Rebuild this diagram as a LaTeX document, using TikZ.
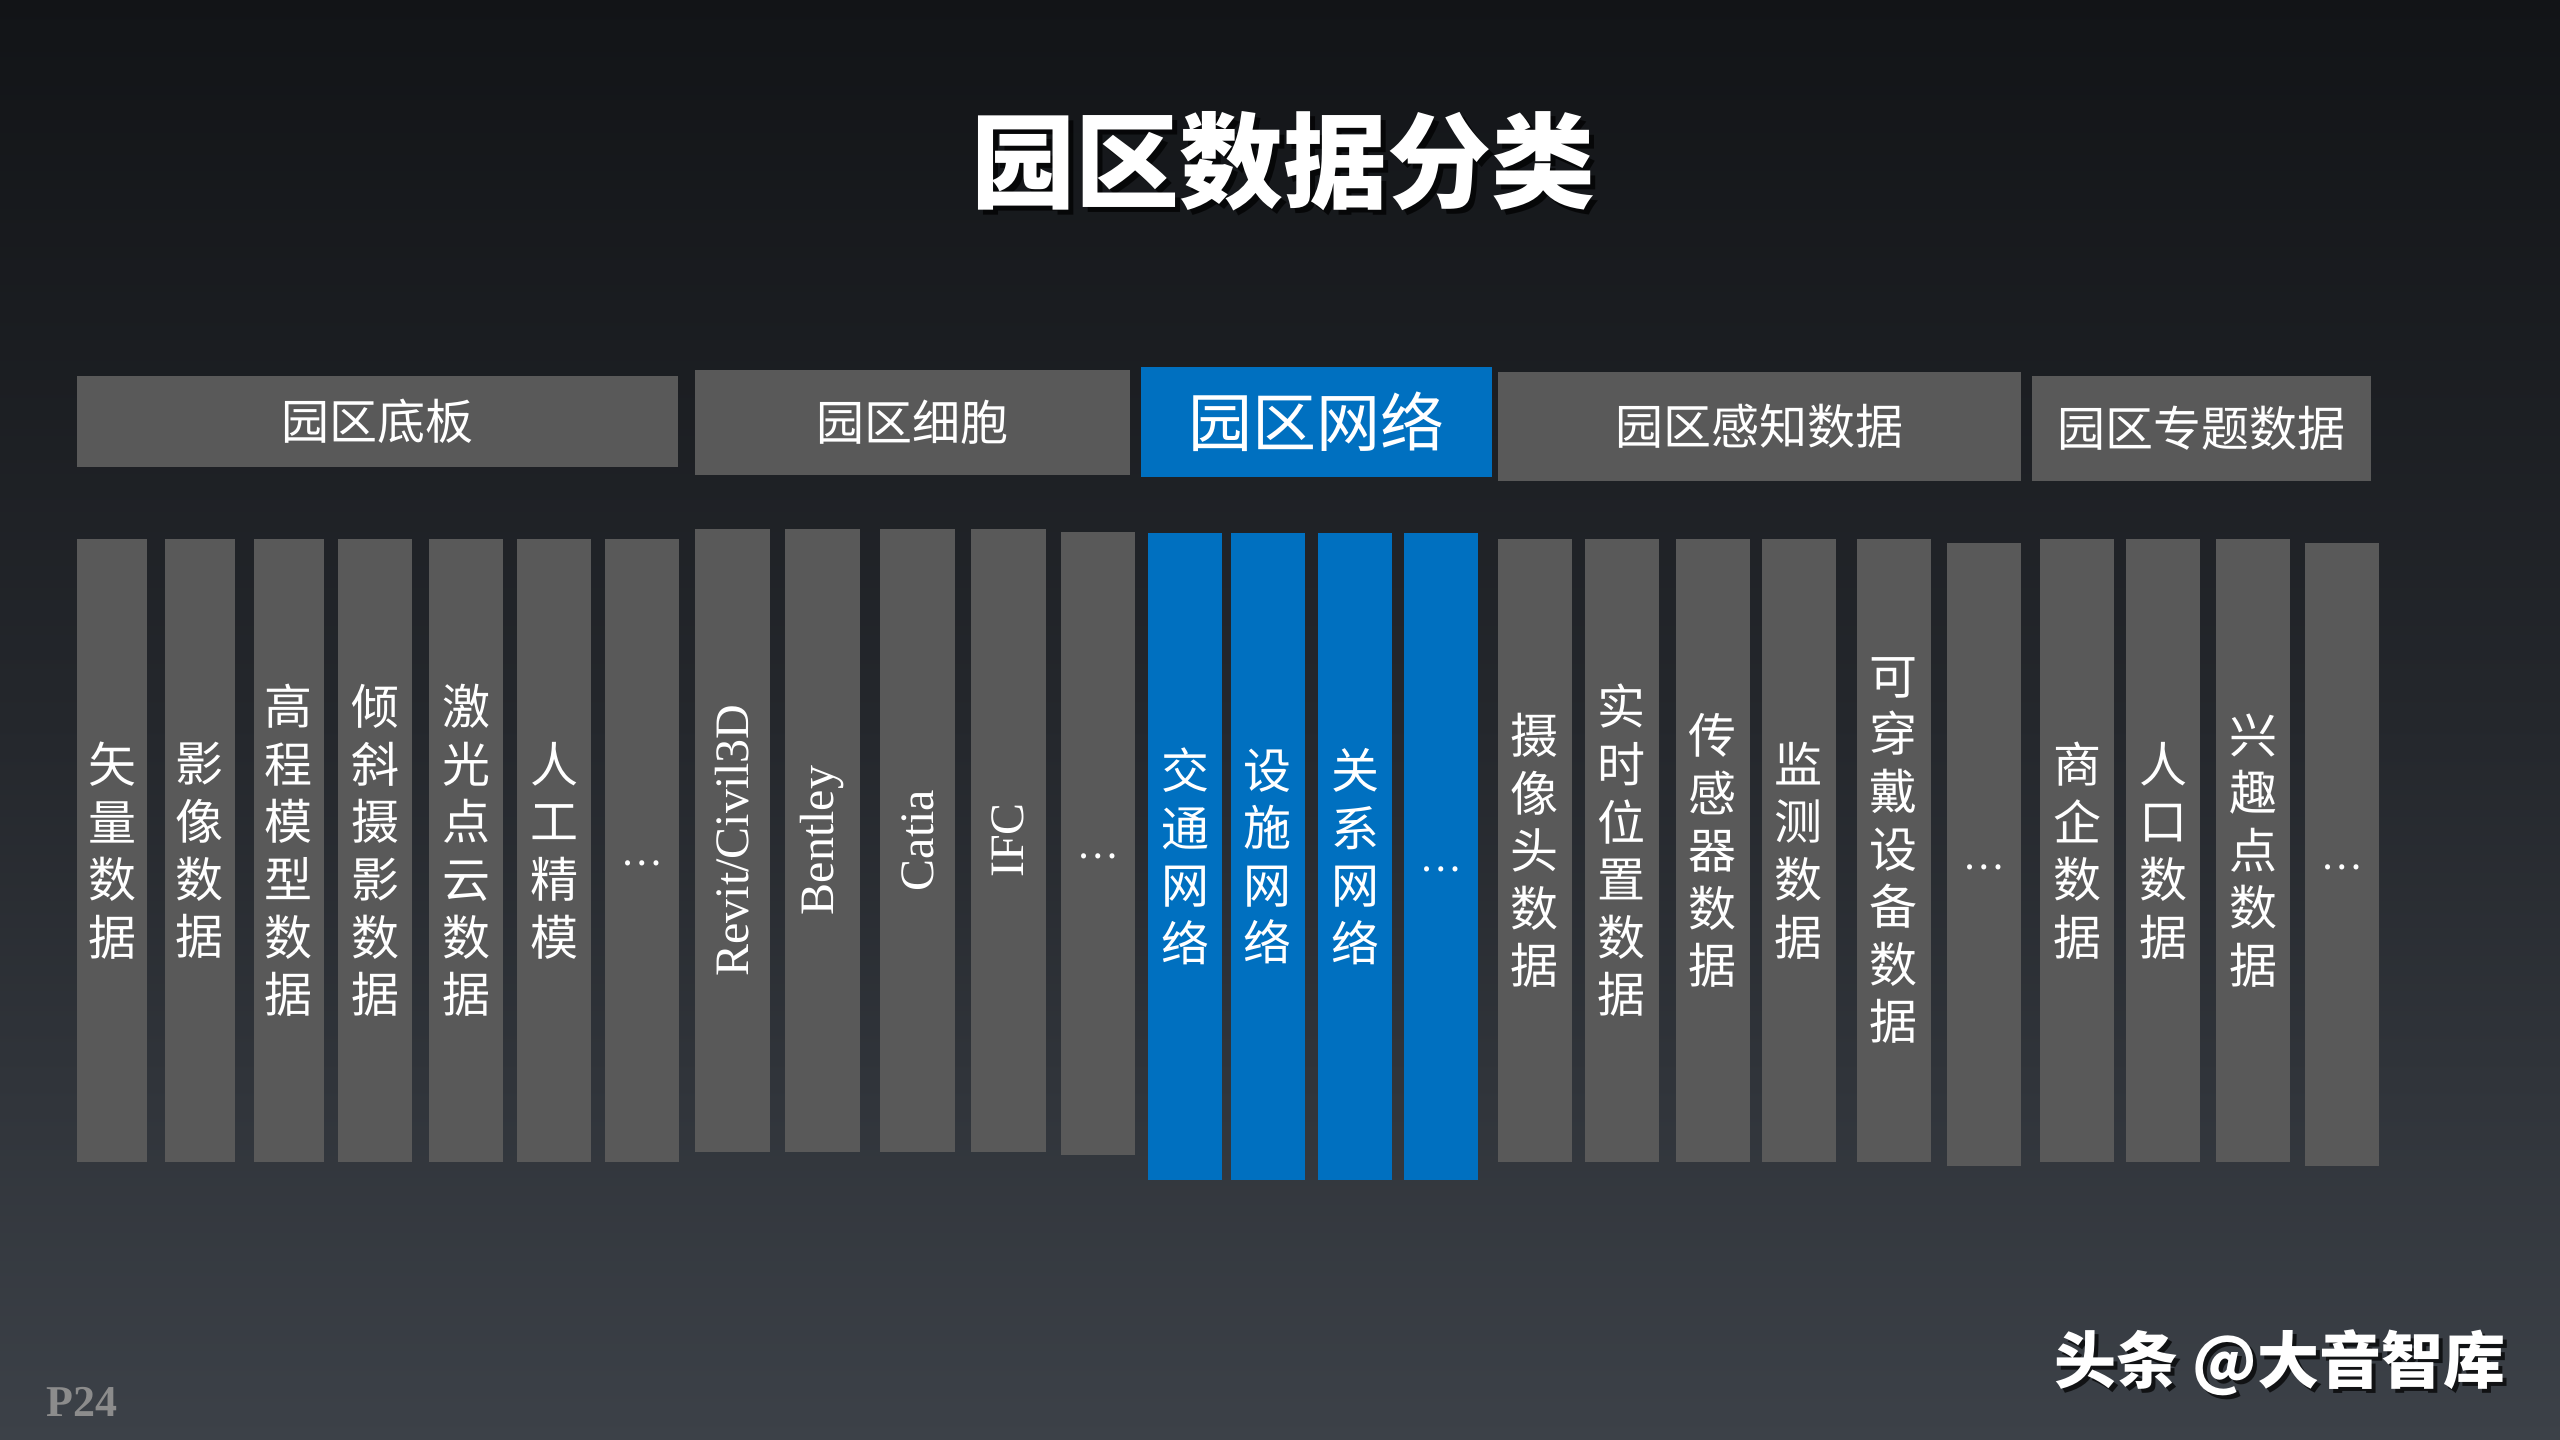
\documentclass[tikz,border=0pt]{standalone}
\usepackage{fontspec}
\setmainfont{Liberation Serif}
\newfontfamily\cjk{Noto Sans CJK SC}
\usetikzlibrary{positioning}
\definecolor{boxgray}{HTML}{595959}
\definecolor{netblue}{HTML}{0070C0}
\definecolor{bgtop}{HTML}{121417}
\definecolor{bgmid}{HTML}{24272C}
\definecolor{bgbot}{HTML}{3C4148}
\definecolor{pagegray}{HTML}{8C8C8C}

\begin{document}
\begin{tikzpicture}[x=1pt, y=-1pt,
  head/.style={rectangle, fill=boxgray, inner sep=0pt, text=white, font=\cjk\fontsize{48}{56}\selectfont},
  col/.style={rectangle, fill=boxgray, inner sep=0pt, minimum width=74pt, minimum height=623pt, align=center, text=white, font=\cjk\fontsize{48}{57.6}\selectfont},
  netcol/.style={col, fill=netblue, minimum height=647pt},
  latincol/.style={col, rotate=90, minimum width=623pt, minimum height=75pt, font=\fontsize{48}{56}\selectfont},
  dots/.style={font=\cjk\fontsize{38}{44}\selectfont, text height=30pt, text depth=0pt},
  shadowtext/.style={text=black, opacity=0.7},
]
  % background
  \fill[top color=bgtop, bottom color=bgbot, middle color=bgmid] (0,0) rectangle (2560,1440);

  % title
  \node[shadowtext, font=\cjk\bfseries\fontsize{104}{120}\selectfont] (titleshadow) at (1288,166) {园区数据分类};
  \node[text=white, font=\cjk\bfseries\fontsize{104}{120}\selectfont] (title) at (1283,161) {园区数据分类};

  % headers
  \node[head, minimum width=601pt, minimum height=91pt]  (hbase)  at (377.5,421.5)  {园区底板};
  \node[head, minimum width=435pt, minimum height=105pt] (hcell)  at (912.5,422.5)  {园区细胞};
  \node[head, fill=netblue, minimum width=351pt, minimum height=110pt, font=\cjk\fontsize{64}{72}\selectfont] (hnet) at (1316.5,422) {园区网络};
  \node[head, minimum width=523pt, minimum height=109pt] (hsense) at (1759.5,426.5) {园区感知数据};
  \node[head, minimum width=339pt, minimum height=105pt] (htopic) at (2201.5,428.5) {园区专题数据};

  % 园区底板
  \node[col, minimum width=70pt] (b1) at (112,850.5)   {矢\\量\\数\\据};
  \node[col, minimum width=70pt] (b2) at (199.5,850.5) {影\\像\\数\\据};
  \node[col, minimum width=70pt] (b3) at (288.5,850.5) {高\\程\\模\\型\\数\\据};
  \node[col] (b4) at (375,850.5) {倾\\斜\\摄\\影\\数\\据};
  \node[col] (b5) at (466,850.5) {激\\光\\点\\云\\数\\据};
  \node[col] (b6) at (554,850.5) {人\\工\\精\\模};
  \node[col, dots] (b7) at (642,850.5) {…};

  % 园区细胞
  \node[latincol] (c1) at (732.5,840.5) {Revit/Civil3D};
  \node[latincol] (c2) at (822.5,840.5) {Bentley};
  \node[latincol] (c3) at (917.5,840.5) {Catia};
  \node[latincol] (c4) at (1008,840.5)  {IFC};
  \node[col, dots] (c5) at (1098,843.5) {…};

  % 园区网络
  \node[netcol] (n1) at (1185,856.5)   {交\\通\\网\\络};
  \node[netcol] (n2) at (1267.5,856.5) {设\\施\\网\\络};
  \node[netcol] (n3) at (1355,856.5)   {关\\系\\网\\络};
  \node[netcol, dots] (n4) at (1440.5,856) {…};

  % 园区感知数据
  \node[col] (s1) at (1534.5,850.5) {摄\\像\\头\\数\\据};
  \node[col] (s2) at (1621.5,850.5) {实\\时\\位\\置\\数\\据};
  \node[col] (s3) at (1712.5,850.5) {传\\感\\器\\数\\据};
  \node[col] (s4) at (1798.5,850.5) {监\\测\\数\\据};
  \node[col] (s5) at (1893.5,850.5) {可\\穿\\戴\\设\\备\\数\\据};
  \node[col, dots] (s6) at (1983.5,854.5) {…};

  % 园区专题数据
  \node[col] (t1) at (2077,850.5) {商\\企\\数\\据};
  \node[col] (t2) at (2163,850.5) {人\\口\\数\\据};
  \node[col] (t3) at (2253,850.5) {兴\\趣\\点\\数\\据};
  \node[col, dots] (t4) at (2341.5,854.5) {…};

  % footer
  \node[text=pagegray, font=\bfseries\fontsize{44}{50}\selectfont] (page) at (82,1402) {P24};
  \node[shadowtext, font=\cjk\bfseries\fontsize{62}{70}\selectfont] (markshadow) at (2284,1367) {头条 @大音智库};
  \node[text=white, font=\cjk\bfseries\fontsize{62}{70}\selectfont] (mark) at (2280,1363) {头条 @大音智库};
\end{tikzpicture}
\end{document}
